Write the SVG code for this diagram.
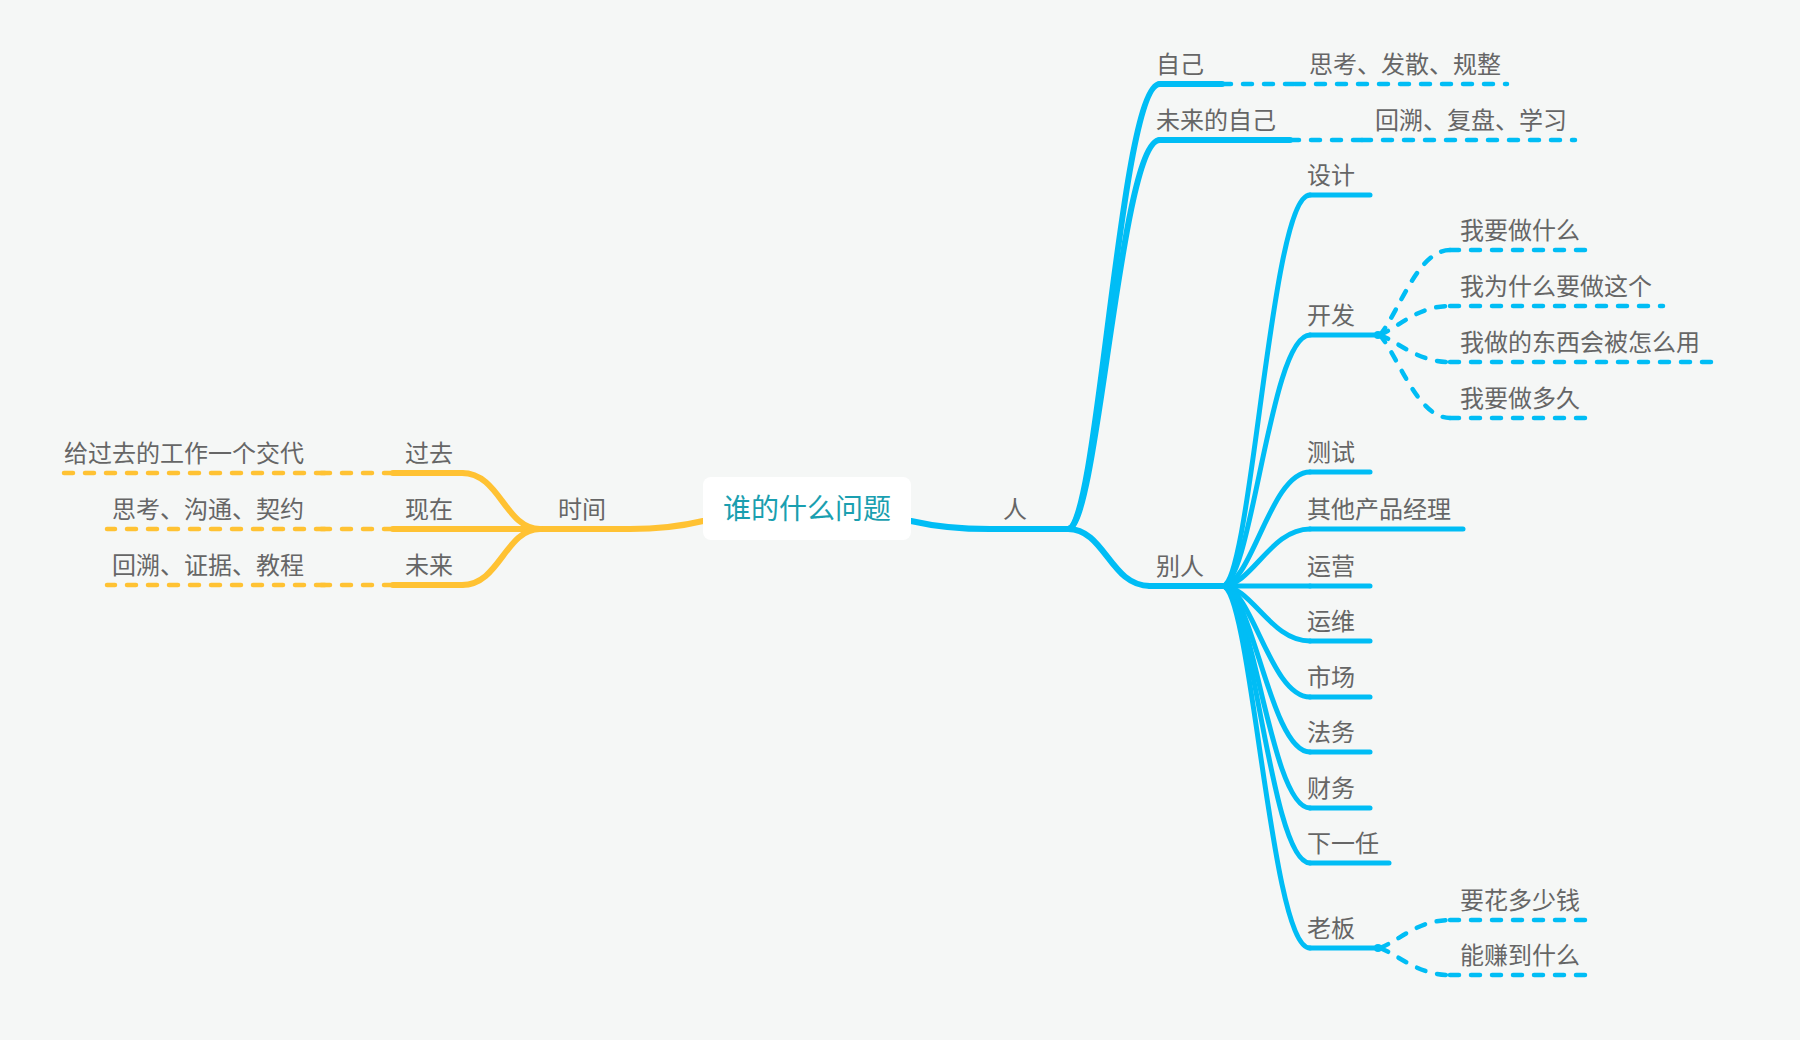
<svg xmlns="http://www.w3.org/2000/svg" width="1800" height="1040" viewBox="0 0 1800 1040">
<style>
.bg{fill:#f5f7f6}
.b{stroke:#00bdf5;stroke-width:6;fill:none;stroke-linecap:round;stroke-linejoin:round}
.b5{stroke:#00bdf5;stroke-width:5;fill:none;stroke-linecap:round;stroke-linejoin:round}
.bd{stroke:#00bdf5;stroke-width:4.5;fill:none;stroke-linecap:round;stroke-dasharray:9 12}
.y{stroke:#ffc233;stroke-width:6;fill:none;stroke-linecap:round;stroke-linejoin:round}
.yd{stroke:#ffc233;stroke-width:4.5;fill:none;stroke-linecap:round;stroke-dasharray:9 12}
.t{font-family:"Noto Sans CJK SC","Noto Sans",sans-serif;font-size:24px;fill:#666666}
.te{font-family:"Noto Sans CJK SC","Noto Sans",sans-serif;font-size:24px;fill:#666666;text-anchor:end}
.root{font-family:"Noto Sans CJK SC","Noto Sans",sans-serif;font-size:28px;fill:#1a9fb0;text-anchor:middle}
.dot{fill:#00bdf5}
</style>
<rect class="bg" x="0" y="0" width="1800" height="1040"/>

<g id="connectors">
  <!-- root to branches -->
  <path class="b" d="M911,521 Q950,530 1000,529 L1068,529"/>
  <path class="y" d="M703,521 Q670,529 630,529 L540,529"/>
  <!-- 人 -->
  <path class="b" d="M1068,529 C1098,529 1120,84 1160,84"/>
  <path class="b" d="M1068,529 C1098,529 1120,140 1160,140"/>
  <path class="b" d="M1068,529 C1105,529 1110,586 1150,586"/>
  <path class="bd" d="M1222,84 L1300,84"/>
  <path class="bd" d="M1290,140 L1368,140"/>
  <!-- 别人 children -->
  <path class="b5" d="M1222,586 C1252,586 1270,195 1310,195"/>
  <path class="b5" d="M1222,586 C1252,586 1270,335 1310,335"/>
  <path class="b5" d="M1222,586 C1252,586 1270,472 1310,472"/>
  <path class="b5" d="M1222,586 C1252,586 1270,529 1310,529"/>
  <path class="b5" d="M1222,586 L1310,586"/>
  <path class="b5" d="M1222,586 C1252,586 1270,641 1310,641"/>
  <path class="b5" d="M1222,586 C1252,586 1270,697 1310,697"/>
  <path class="b5" d="M1222,586 C1252,586 1270,752 1310,752"/>
  <path class="b5" d="M1222,586 C1252,586 1270,808 1310,808"/>
  <path class="b5" d="M1222,586 C1252,586 1270,863 1310,863"/>
  <path class="b5" d="M1222,586 C1252,586 1270,948 1310,948"/>
  <!-- 开发 children -->
  <path class="bd" d="M1380,335 C1400,310 1418,250 1450,250"/>
  <path class="bd" d="M1380,335 C1400,326 1418,306 1450,306"/>
  <path class="bd" d="M1380,335 C1400,343 1418,362 1450,362"/>
  <path class="bd" d="M1380,335 C1400,360 1418,418 1450,418"/>
  <!-- 老板 children -->
  <path class="bd" d="M1380,948 C1400,940 1418,920 1450,920"/>
  <path class="bd" d="M1380,948 C1400,956 1418,975 1450,975"/>
  <!-- 时间 children -->
  <path class="y" d="M540,529 C505,529 500,473 462,473"/>
  <path class="y" d="M540,529 L462,529"/>
  <path class="y" d="M540,529 C505,529 500,585 462,585"/>
  <path class="yd" d="M393,473 L318,473"/>
  <path class="yd" d="M393,529 L318,529"/>
  <path class="yd" d="M393,585 L318,585"/>
</g>

<g id="node-root">
  <rect x="703" y="477" width="208" height="63" rx="8" fill="#ffffff"/>
  <text class="root" x="807" y="519">谁的什么问题</text>
</g>

<g id="node-ren"><text class="t" x="1003" y="518">人</text></g>
<g id="node-ziji"><path class="b" d="M1160,84 L1222,84"/><text class="t" x="1156" y="73">自己</text></g>
<g id="node-ziji-leaf"><path class="bd" d="M1295,84 L1507,84"/><text class="t" x="1309" y="73">思考、发散、规整</text></g>
<g id="node-weilai-ziji"><path class="b" d="M1160,140 L1290,140"/><text class="t" x="1156" y="129">未来的自己</text></g>
<g id="node-weilai-ziji-leaf"><path class="bd" d="M1362,140 L1575,140"/><text class="t" x="1375" y="129">回溯、复盘、学习</text></g>
<g id="node-bieren"><path class="b" d="M1150,586 L1222,586"/><text class="t" x="1156" y="575">别人</text></g>

<g id="node-sheji"><path class="b5" d="M1310,195 L1370,195"/><text class="t" x="1307" y="184">设计</text></g>
<g id="node-kaifa"><path class="b5" d="M1310,335 L1377,335"/><circle class="dot" cx="1378" cy="335" r="4"/><text class="t" x="1307" y="324">开发</text></g>
<g id="node-kf1"><path class="bd" d="M1450,250 L1590,250"/><text class="t" x="1460" y="239">我要做什么</text></g>
<g id="node-kf2"><path class="bd" d="M1450,306 L1663,306"/><text class="t" x="1460" y="295">我为什么要做这个</text></g>
<g id="node-kf3"><path class="bd" d="M1450,362 L1713,362"/><text class="t" x="1460" y="351">我做的东西会被怎么用</text></g>
<g id="node-kf4"><path class="bd" d="M1450,418 L1590,418"/><text class="t" x="1460" y="407">我要做多久</text></g>
<g id="node-ceshi"><path class="b5" d="M1310,472 L1370,472"/><text class="t" x="1307" y="461">测试</text></g>
<g id="node-pm"><path class="b5" d="M1310,529 L1463,529"/><text class="t" x="1307" y="518">其他产品经理</text></g>
<g id="node-yunying"><path class="b5" d="M1310,586 L1370,586"/><text class="t" x="1307" y="575">运营</text></g>
<g id="node-yunwei"><path class="b5" d="M1310,641 L1370,641"/><text class="t" x="1307" y="630">运维</text></g>
<g id="node-shichang"><path class="b5" d="M1310,697 L1370,697"/><text class="t" x="1307" y="686">市场</text></g>
<g id="node-fawu"><path class="b5" d="M1310,752 L1370,752"/><text class="t" x="1307" y="741">法务</text></g>
<g id="node-caiwu"><path class="b5" d="M1310,808 L1370,808"/><text class="t" x="1307" y="797">财务</text></g>
<g id="node-xiayiren"><path class="b5" d="M1310,863 L1389,863"/><text class="t" x="1307" y="852">下一任</text></g>
<g id="node-laoban"><path class="b5" d="M1310,948 L1377,948"/><circle class="dot" cx="1378" cy="948" r="4"/><text class="t" x="1307" y="937">老板</text></g>
<g id="node-lb1"><path class="bd" d="M1450,920 L1590,920"/><text class="t" x="1460" y="909">要花多少钱</text></g>
<g id="node-lb2"><path class="bd" d="M1450,975 L1590,975"/><text class="t" x="1460" y="964">能赚到什么</text></g>

<g id="node-shijian"><text class="t" x="558" y="518">时间</text></g>
<g id="node-guoqu"><path class="y" d="M462,473 L393,473"/><text class="t" x="405" y="462">过去</text></g>
<g id="node-guoqu-leaf"><path class="yd" d="M325,473 L63,473"/><text class="te" x="304" y="462">给过去的工作一个交代</text></g>
<g id="node-xianzai"><path class="y" d="M462,529 L393,529"/><text class="t" x="405" y="518">现在</text></g>
<g id="node-xianzai-leaf"><path class="yd" d="M325,529 L107,529"/><text class="te" x="304" y="518">思考、沟通、契约</text></g>
<g id="node-weilai"><path class="y" d="M462,585 L393,585"/><text class="t" x="405" y="574">未来</text></g>
<g id="node-weilai-leaf"><path class="yd" d="M325,585 L107,585"/><text class="te" x="304" y="574">回溯、证据、教程</text></g>
</svg>
